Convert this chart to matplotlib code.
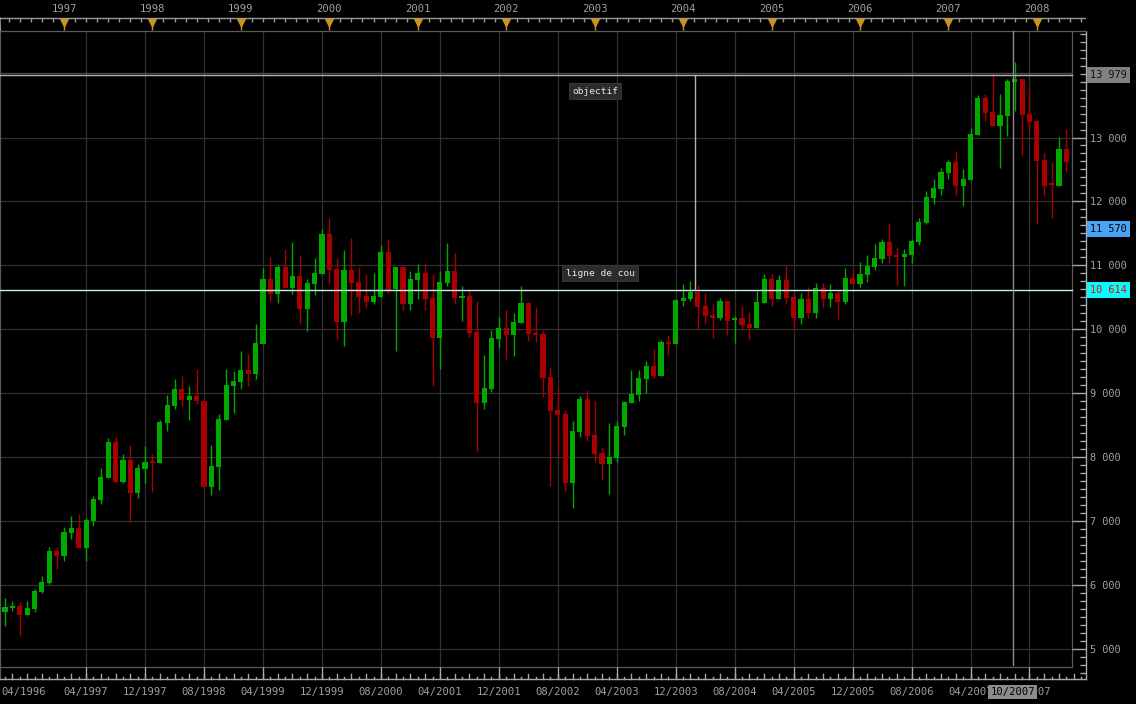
import matplotlib
matplotlib.use("Agg")
import matplotlib.pyplot as plt
import matplotlib.transforms as mtransforms
from matplotlib.ticker import FixedLocator, MultipleLocator
import numpy as np

# ------------------------------------------------------------------
# Data: monthly candles, May 1996 -> May 2008
# ------------------------------------------------------------------
FIRST_MONTH = -8  # May 1996, counted in months from Jan 1997

opens = [5579, 5642, 5668, 5527, 5621, 5887, 6028, 6529,
         6450, 6810, 6889, 6576, 6998, 7327, 7671, 8234, 7609, 7953, 7437, 7812,
         7922, 7906, 8531, 8797, 9063, 8891, 8953, 8875, 7530, 7843, 8578, 9110,
         9174, 9361, 9298, 9768, 10785, 10551, 10973, 10645, 10832, 10316, 10707, 10864,
         11489, 10942, 10112, 10926, 10739, 10519, 10425, 10504, 11207, 10629, 10973, 10394,
         10770, 10879, 10488, 9862, 10723, 10910, 10488, 10519, 9956, 8850, 9063, 9846,
         10018, 9909, 10097, 10409, 9940, 9924, 9252, 8735, 8673, 7593, 8391, 8907,
         8344, 8063, 7896, 7989, 8469, 8845, 8970, 9220, 9424, 9272, 9804, 9773,
         10446, 10472, 10582, 10363, 10222, 10180, 10441, 10149, 10180, 10081, 10023, 10415,
         10785, 10477, 10769, 10503, 10180, 10472, 10258, 10644, 10477, 10566, 10430, 10801,
         10712, 10853, 10978, 11103, 11364, 11160, 11135, 11166, 11364, 11661, 12051, 12193,
         12444, 12616, 12241, 12334, 13038, 13617, 13398, 13179, 13335, 13867, 13914, 13367,
         13257, 12647, 12272, 12241, 12819]

highs = [5798, 5746, 5736, 5746, 5934, 6137, 6591, 6591,
         6905, 7077, 7108, 7045, 7390, 7828, 8297, 8312, 8047, 8188, 7891, 8172,
         8047, 8578, 8969, 9219, 9266, 9110, 9377, 8891, 8188, 8672, 9377, 9345,
         9658, 9611, 10081, 10957, 11129, 11004, 11254, 11364, 11145, 10785, 11114, 11567,
         11740, 11114, 11239, 11426, 10973, 10863, 10879, 11317, 11395, 10973, 11004, 10910,
         11020, 11035, 10863, 10910, 11348, 11192, 10676, 10613, 10441, 9596, 9987, 10191,
         10300, 10253, 10675, 10425, 10347, 9987, 9408, 9079, 8735, 8563, 8954, 9048,
         8876, 8156, 8531, 8563, 8876, 9361, 9361, 9502, 9689, 9831, 9909, 10470,
         10707, 10754, 10692, 10566, 10394, 10488, 10441, 10206, 10363, 10269, 10597, 10863,
         10863, 10848, 10988, 10566, 10566, 10660, 10723, 10723, 10707, 10613, 10957, 10942,
         11051, 11160, 11333, 11411, 11661, 11286, 11254, 11411, 11740, 12161, 12350, 12522,
         12647, 12788, 12507, 13148, 13664, 13680, 14009, 13680, 13914, 14181, 13914, 13774,
         13273, 12757, 12616, 13007, 13132]

lows = [5360, 5595, 5204, 5527, 5579, 5871, 6012, 6247,
        6372, 6716, 6576, 6372, 6920, 7264, 7671, 7609, 7593, 6983, 7358, 7593,
        7452, 7906, 8406, 8750, 8797, 8578, 8829, 7530, 7405, 7483, 8578, 8688,
        9065, 9111, 9220, 9768, 10441, 10410, 10645, 10551, 10081, 9972, 10535, 10864,
        10707, 9831, 9737, 10207, 10253, 10331, 10394, 10504, 10566, 9658, 10300, 10300,
        10472, 10300, 9111, 9377, 10676, 10394, 10128, 9877, 8083, 8745, 9017, 9705,
        9533, 9580, 10097, 9815, 9799, 8939, 7548, 8047, 7468, 7201, 8313, 8250,
        7922, 7645, 7426, 7927, 8349, 8845, 8881, 9006, 9241, 9272, 9601, 9773,
        10368, 10446, 10008, 10081, 9867, 10149, 9914, 9789, 9992, 9830, 10023, 10415,
        10368, 10477, 10399, 10008, 10086, 10180, 10180, 10352, 10352, 10164, 10399, 10712,
        10665, 10743, 10931, 11035, 11041, 10696, 10681, 11041, 11317, 11646, 11959, 12099,
        12350, 12099, 11928, 12334, 13038, 13257, 13179, 12523, 13023, 13414, 12726, 13101,
        11646, 12084, 11740, 12241, 12460]

closes = [5658, 5673, 5527, 5637, 5903, 6043, 6529, 6450,
          6826, 6889, 6576, 7014, 7343, 7687, 8234, 7609, 7953, 7437, 7828, 7922,
          7910, 8547, 8813, 9063, 8891, 8953, 8875, 7530, 7859, 8594, 9126, 9189,
          9361, 9298, 9784, 10785, 10551, 10973, 10645, 10832, 10316, 10723, 10879, 11489,
          10926, 10112, 10926, 10723, 10504, 10425, 10519, 11207, 10613, 10973, 10394, 10785,
          10879, 10472, 9862, 10739, 10910, 10488, 10519, 9940, 8850, 9079, 9862, 10018,
          9909, 10112, 10409, 9924, 9909, 9236, 8720, 8657, 7593, 8407, 8907, 8328,
          8047, 7896, 7999, 8485, 8860, 8985, 9241, 9424, 9272, 9799, 9773, 10456,
          10488, 10582, 10352, 10211, 10180, 10441, 10133, 10175, 10070, 10023, 10425, 10785,
          10477, 10769, 10493, 10180, 10472, 10258, 10644, 10477, 10566, 10430, 10801, 10712,
          10864, 10988, 11114, 11364, 11150, 11130, 11176, 11380, 11677, 12067, 12209, 12460,
          12616, 12241, 12350, 13054, 13617, 13382, 13179, 13351, 13883, 13914, 13351, 13242,
          12632, 12241, 12257, 12819, 12616]

year_labels = [str(y) for y in range(1997, 2009)]
date_labels = ["04/1997", "12/1997", "08/1998", "04/1999", "12/1999", "08/2000",
               "04/2001", "12/2001", "08/2002", "04/2003", "12/2003", "08/2004",
               "04/2005", "12/2005", "08/2006", "04/2007", "12/2007"]
first_date_label = "04/1996"
price_ticks = [5000, 6000, 7000, 8000, 9000, 10000, 11000, 12000, 13000]

OBJECTIF = 13979
NECKLINE = 10614
MARKER_PRICE = 11570
MEASURE_MONTH = 85.66     # vertical "objectif" measure line
CURSOR_MONTH = 128.75
CURSOR_LABEL = "10/2007"

# ------------------------------------------------------------------
# Style / pixel geometry
# ------------------------------------------------------------------
W, H = 1136, 704
BG = "black"
GRID = "#303030"
FRAME = "#5a5a5a"
AXIS = "#a8a8a8"
TXT = "#a0a0a0"
UP = "#00a800"
DOWN = "#a80000"
GOLD = "#c8961e"
MONO = ["DejaVu Sans Mono"]

PX_PER_MONTH = 7.37
X_JAN97 = 64.0
PX_PER_UNIT = 0.0639
Y_5000 = 648.7


def m_at(px):
    return (px - X_JAN97) / PX_PER_MONTH


def p_at(py):
    return 5000 + (Y_5000 - py) / PX_PER_UNIT


def frac(x0, y0, x1, y1):
    return [x0 / W, 1 - y1 / H, (x1 - x0) / W, (y1 - y0) / H]


def label_month(s):
    mm, yy = s.split("/")
    return (int(yy) - 1997) * 12 + int(mm) - 1


fig = plt.figure(figsize=(W / 100, H / 100), dpi=100, facecolor=BG)

# main price panel (right spine = price axis at x=1086, bottom spine = date axis)
ax = fig.add_axes(frac(0, 31, 1086, 679))
ax.set_facecolor(BG)
x0, x1 = m_at(0), m_at(1086)
y0, y1 = p_at(679), p_at(31)
ax.set_xlim(x0, x1)
ax.set_ylim(y0, y1)

plot_right = m_at(1072)
plot_bottom = p_at(667)

# grid
for v in price_ticks:
    ax.plot([x0, m_at(1070)], [v, v], color=GRID, lw=0.9, zorder=0)
for s in date_labels:
    m = label_month(s)
    ax.plot([m, m], [plot_bottom, y1], color=GRID, lw=0.9, zorder=0)

# plot frame
ax.plot([x0, plot_right], [plot_bottom, plot_bottom], color=FRAME, lw=0.9, zorder=1)
ax.plot([plot_right, plot_right], [plot_bottom, y1], color=FRAME, lw=0.9, zorder=1)

# candles
months = FIRST_MONTH + np.arange(len(opens))
o = np.array(opens, dtype=float)
h = np.array(highs, dtype=float)
lo = np.array(lows, dtype=float)
c = np.array(closes, dtype=float)
cols = [UP if cc >= oo else DOWN for oo, cc in zip(o, c)]
ax.vlines(months, lo, h, colors=cols, lw=1.0, zorder=3)
ax.bar(months, np.maximum(np.abs(c - o), 25), bottom=np.minimum(o, c),
       width=0.7, color=cols, linewidth=0, zorder=4)

# objectif / neckline drawing
ax.plot([x0, plot_right], [OBJECTIF + 30, OBJECTIF + 30], color="#4a4a4a", lw=1.0, zorder=5)
ax.plot([x0, plot_right], [OBJECTIF, OBJECTIF], color="#b4b4b4", lw=1.0, zorder=5)
ax.plot([x0, plot_right], [NECKLINE, NECKLINE], color="#c8eeee", lw=1.0, zorder=5)
ax.plot([MEASURE_MONTH, MEASURE_MONTH], [NECKLINE, OBJECTIF], color="#b4b4b4", lw=1.0, zorder=5)
ax.plot([CURSOR_MONTH, CURSOR_MONTH], [p_at(665), y1], color="#8c8c8c", lw=1.0, zorder=6)

box = dict(boxstyle="square,pad=0.35", facecolor="#2c2c2c", edgecolor="#3c3c3c", lw=0.6)
ax.text(m_at(595), p_at(91), "objectif", color="#e8e8e8", fontsize=6.8, family=MONO,
        ha="center", va="center", bbox=box, zorder=7)
ax.text(m_at(600), p_at(273), "ligne de cou", color="#e8e8e8", fontsize=6.8, family=MONO,
        ha="center", va="center", bbox=box, zorder=7)

# spines
for side in ("left", "top"):
    ax.spines[side].set_color(FRAME)
    ax.spines[side].set_linewidth(0.9)
for side in ("right", "bottom"):
    ax.spines[side].set_color(AXIS)
    ax.spines[side].set_linewidth(1.0)

# price axis on the right
ax.yaxis.tick_right()
ax.yaxis.set_major_locator(FixedLocator(price_ticks))
ax.yaxis.set_minor_locator(MultipleLocator(125))
ax.set_yticklabels([f"{v:,}".replace(",", " ") for v in price_ticks])
ax.tick_params(axis="y", which="major", direction="in", length=10, width=1.0,
               color=AXIS, labelcolor=TXT, labelsize=7.4, pad=3)
ax.tick_params(axis="y", which="minor", direction="in", length=4.3, width=1.0, color=AXIS)
for t in ax.get_yticklabels():
    t.set_family(MONO)

# date axis on the bottom
ax.xaxis.set_major_locator(FixedLocator([label_month(s) for s in date_labels]))
ax.set_xticklabels(date_labels)
ax.tick_params(axis="x", which="major", direction="in", length=8.6, width=1.0,
               color=AXIS, labelcolor=TXT, labelsize=7.6, pad=6)
for t in ax.get_xticklabels():
    t.set_family(MONO)
trans = mtransforms.blended_transform_factory(ax.transData, ax.transAxes)
for m in range(int(np.ceil(x0)), int(x1) + 1):
    ln = 5 if m % 2 else 2.5
    ax.plot([m, m], [0, ln / 648], color=AXIS, lw=1.0, transform=trans, clip_on=False)
ax.text(0.001, -13 / 648, first_date_label, transform=ax.transAxes, color=TXT,
        fontsize=7.6, family=MONO, ha="left", va="center")
ax.text(CURSOR_MONTH, -13 / 648, CURSOR_LABEL, transform=trans, color="#000000",
        fontsize=7.6, family=MONO, ha="center", va="center", zorder=10,
        bbox=dict(boxstyle="square,pad=0.2", facecolor="#8c8c8c", edgecolor="none"))

# price tags on the right axis
ytrans = mtransforms.blended_transform_factory(ax.transAxes, ax.transData)
tags = [(OBJECTIF, "#808080", "#101010"),
        (MARKER_PRICE, "#4aa3f5", "#000000"),
        (NECKLINE, "#00ffff", "#ff0000")]
for val, fc, tc in tags:
    ax.text(1.0 + 4 / 1086, val, f"{val:,}".replace(",", " "), transform=ytrans,
            color=tc, fontsize=7.4, family=MONO, ha="left", va="center", zorder=10,
            clip_on=False,
            bbox=dict(boxstyle="square,pad=0.3", facecolor=fc, edgecolor="none"))

# top year band
axt = fig.add_axes(frac(0, 0, 1086, 31))
axt.set_facecolor(BG)
axt.set_xlim(x0, x1)
axt.set_ylim(31, 0)
axt.axis("off")
axt.plot([x0, x1], [18, 18], color="#9a9a9a", lw=1.0)
axt.plot([x0, x0 + 0.05], [18, 31], color="#9a9a9a", lw=1.0)
tick_m = np.arange(-6 * 1.5, x1, 1.5)
tick_m = tick_m[tick_m > x0]
axt.vlines(tick_m, 18, 22, color="#9a9a9a", lw=1.0)
jan = np.arange(len(year_labels)) * 12
axt.vlines(jan, 18, 30, color=GOLD, lw=1.0)
axt.scatter(jan, np.full(len(jan), 22.5), marker="v", s=48, color=GOLD, linewidths=0, zorder=3)
for m, lab in zip(jan, year_labels):
    axt.text(m, 9, lab, color=TXT, fontsize=7.6, family=MONO, ha="center", va="center")

fig.savefig("out.png", dpi=100, facecolor=BG)
